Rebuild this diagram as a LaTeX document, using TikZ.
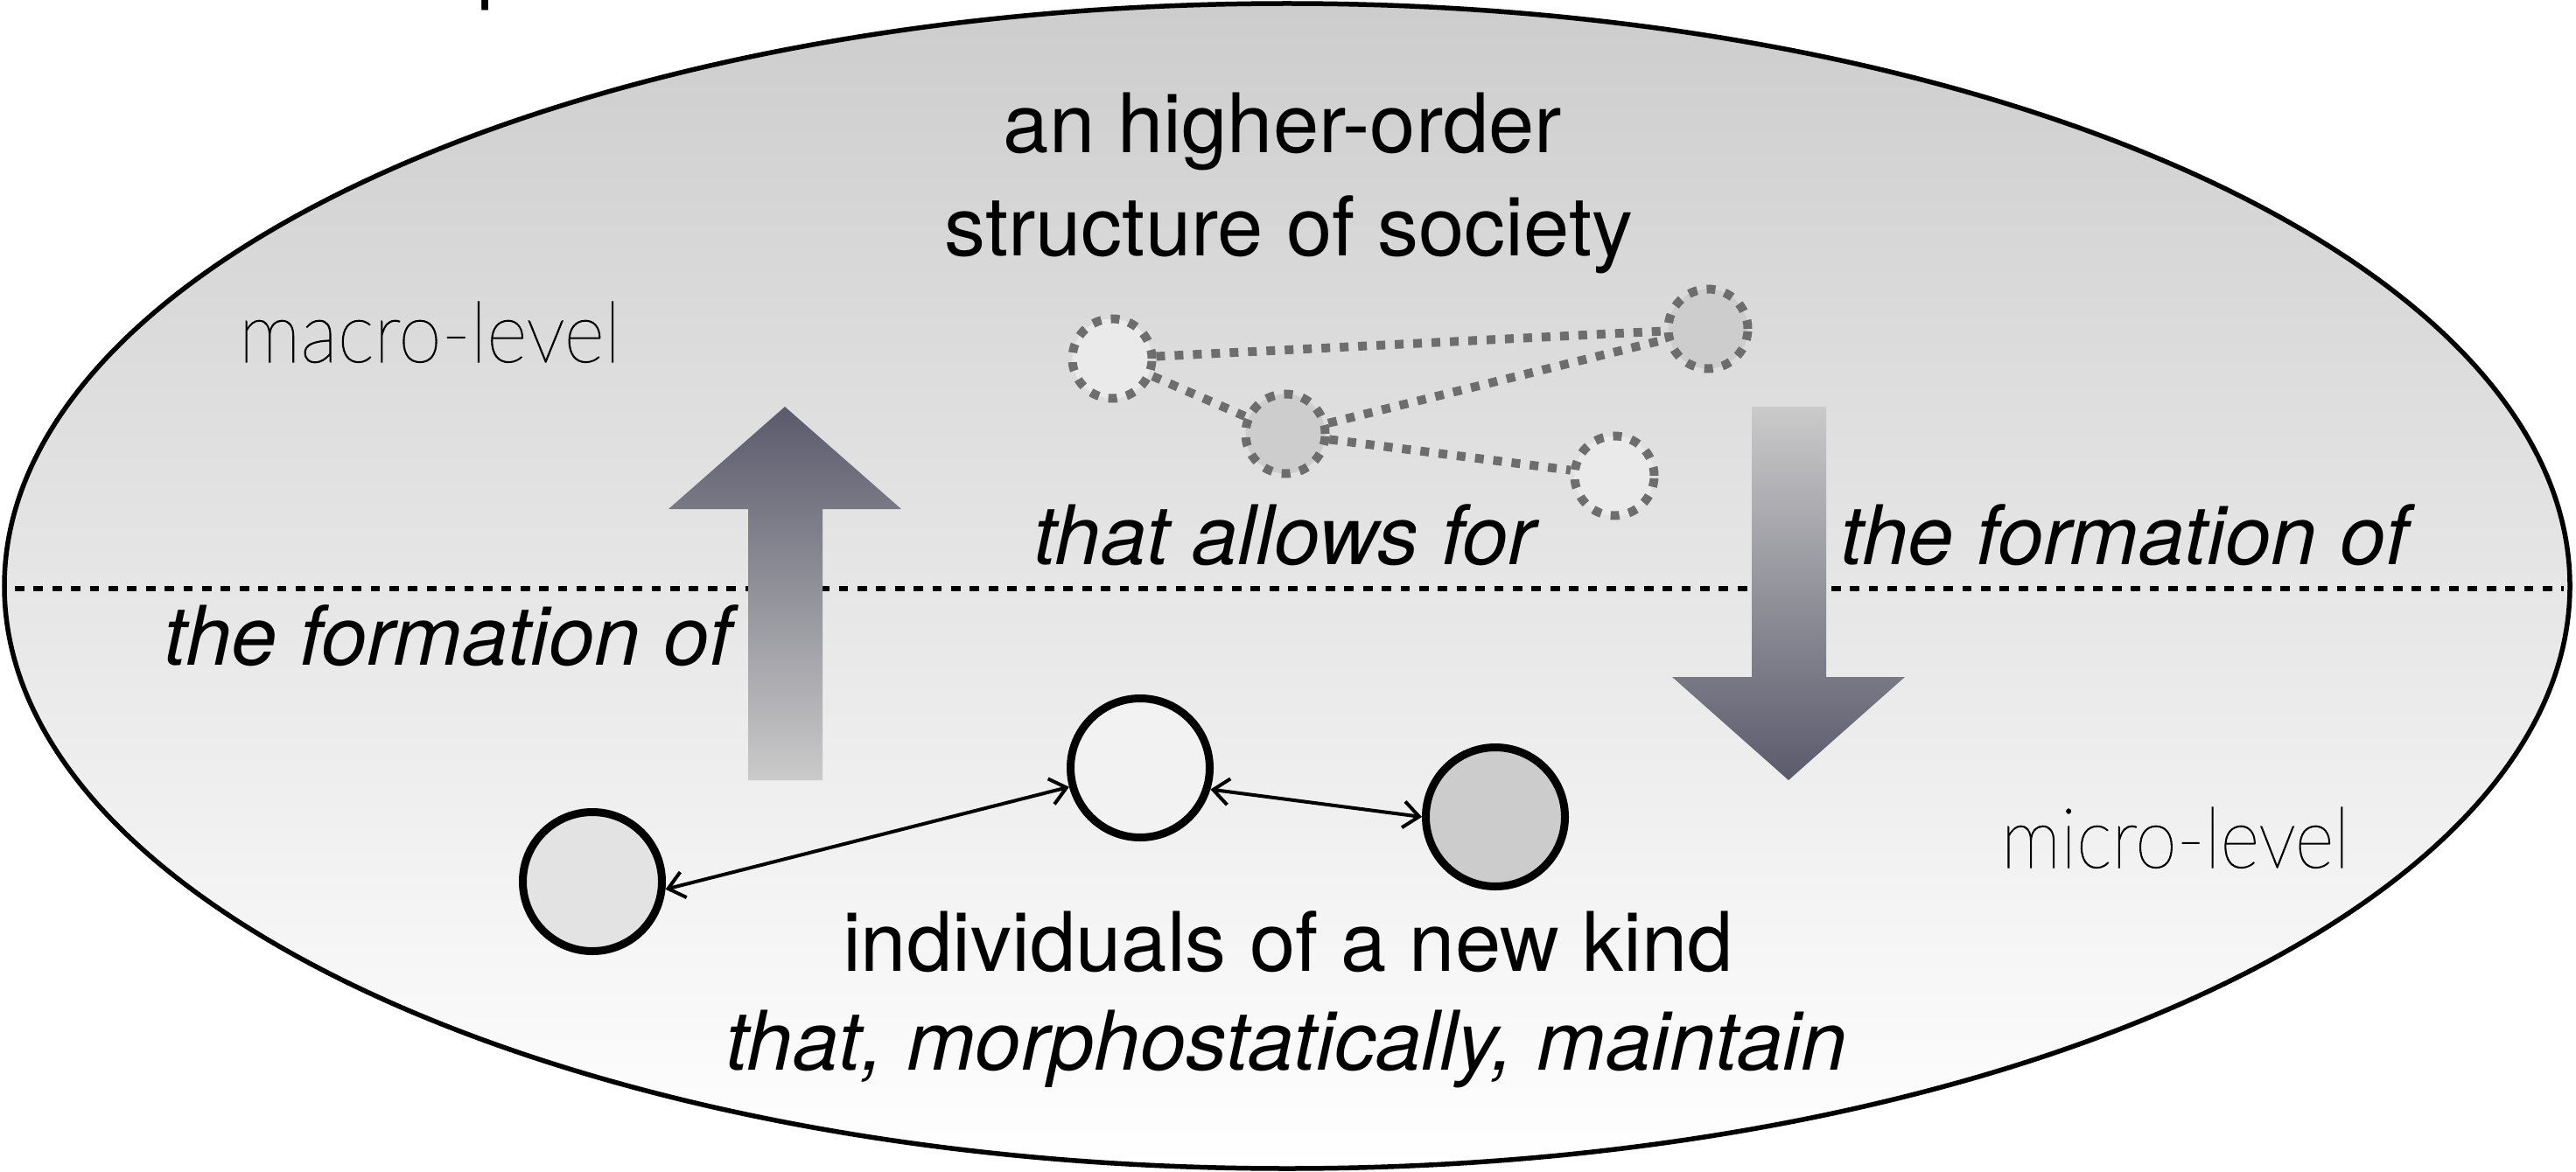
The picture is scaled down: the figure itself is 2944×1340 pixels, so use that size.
\documentclass[tikz,border=0pt]{standalone}
\usepackage{fontspec}
\setmainfont{TeX Gyre Heros}
\usepackage{graphicx}
\usetikzlibrary{arrows.meta}
\IfFontExistsTF{Lato Thin}{\newfontfamily\thinfont[FakeBold=1.2]{Lato Thin}}{%
 \IfFontExistsTF{Lato Hairline}{\newfontfamily\thinfont[FakeBold=2]{Lato Hairline}}{%
  \IfFontExistsTF{Fira Sans ExtraLight}{\newfontfamily\thinfont{Fira Sans ExtraLight}}{%
   \newfontfamily\thinfont{TeX Gyre Heros}}}}
\definecolor{bgtop}{RGB}{205,205,205}
\definecolor{bgmid}{RGB}{239,239,239}
\definecolor{bgbot}{RGB}{255,255,255}
\definecolor{arrowdark}{RGB}{90,90,108}
\definecolor{arrowlight}{RGB}{202,202,202}
\definecolor{dashgray}{RGB}{100,100,100}
\definecolor{dfilllight}{RGB}{234,234,234}
\definecolor{dfilldark}{RGB}{205,205,205}
\definecolor{sfillL}{RGB}{227,227,227}
\definecolor{sfillM}{RGB}{242,242,242}
\definecolor{sfillR}{RGB}{204,204,204}
\tikzset{
  bigtext/.style={font=\fontsize{94}{113}\selectfont, inner sep=0pt, anchor=base},
  bigital/.style={font=\fontsize{94}{113}\selectfont\itshape, inner sep=0pt, anchor=base},
  leveltext/.style={inner sep=0pt, anchor=base},
  dcirc/.style={circle, draw=dashgray, draw opacity=0.92, line width=10pt, dash pattern=on 10pt off 11pt, minimum size=91pt, inner sep=0pt},
  dedge/.style={draw=dashgray, draw opacity=0.92, line width=10pt, dash pattern=on 10pt off 11pt},
  scirc/.style={circle, draw=black, line width=9pt, minimum size=159pt, inner sep=0pt},
  duallink/.style={line width=4pt, {Straight Barb[length=18pt,width=30pt]}-{Straight Barb[length=18pt,width=30pt]}},
  midline/.style={line width=5.5pt, dash pattern=on 10.7pt off 10.7pt},
  blockup/.style={top color=arrowdark, bottom color=arrowlight},
  blockdown/.style={top color=arrowlight, bottom color=arrowdark}
}
\begin{document}
\begin{tikzpicture}[x=1pt,y=-1pt]
\useasboundingbox (0,0) rectangle (2944,1340);
% title fragment cut off at the top
\begin{scope}
\clip (0,0) rectangle (2944,1340);
\node[bigtext, anchor=base west] (ptitle) at (545,-8) {p};
\end{scope}
% big ellipse
\shade[top color=bgtop, middle color=bgmid, bottom color=bgbot] (1471,670) ellipse [x radius=1466, y radius=666];
\draw[line width=5.5pt] (1471,670) ellipse [x radius=1466, y radius=666];
% level separator
\draw[midline] (17,673) -- (2930,673);
% block arrows
\shade[blockup] (855,892) -- (855,582) -- (764,582) -- (897,465) -- (1030,582) -- (940,582) -- (940,892) -- cycle;
\shade[blockdown] (2002,465) -- (2087,465) -- (2087,774) -- (2177,774) -- (2044,892) -- (1911,774) -- (2002,774) -- cycle;
% texts
\node[bigtext] (t1) at (1466,175) {an higher-order};
\node[bigtext] (t2) at (1473,292) {structure of society};
\node[leveltext] (macro) at (491,414) {\resizebox{436pt}{69pt}{\thinfont macro-level}};
\node[bigital] (allows) at (1468,645) {that allows for};
\node[bigital] (formR) at (2428,645) {the formation of};
\node[bigital] (formL) at (512,760) {the formation of};
\node[leveltext] (micro) at (2486,992) {\resizebox{398pt}{69pt}{\thinfont micro-level}};
\node[bigtext] (ind) at (1472,1110) {individuals of a new kind};
\node[bigital] (maint) at (1470,1223) {that, morphostatically, maintain};
% higher-order structure
\node[dcirc, fill=dfilllight] (A) at (1271,410) {};
\node[dcirc, fill=dfilldark] (B) at (1469,496) {};
\node[dcirc, fill=dfilldark] (C) at (1952,376) {};
\node[dcirc, fill=dfilllight] (D) at (1845,544) {};
\draw[dedge] (A) -- (C);
\draw[dedge] (A) -- (B);
\draw[dedge] (B) -- (C);
\draw[dedge] (B) -- (D);
% individuals
\node[scirc, fill=sfillL] (L) at (677,1008) {};
\node[scirc, fill=sfillM] (M) at (1303,878) {};
\node[scirc, fill=sfillR] (R) at (1709,934) {};
\draw[duallink] (L.-6) -- (M.195);
\draw[duallink] (M.-17) -- (R.180);
\end{tikzpicture}
\end{document}
